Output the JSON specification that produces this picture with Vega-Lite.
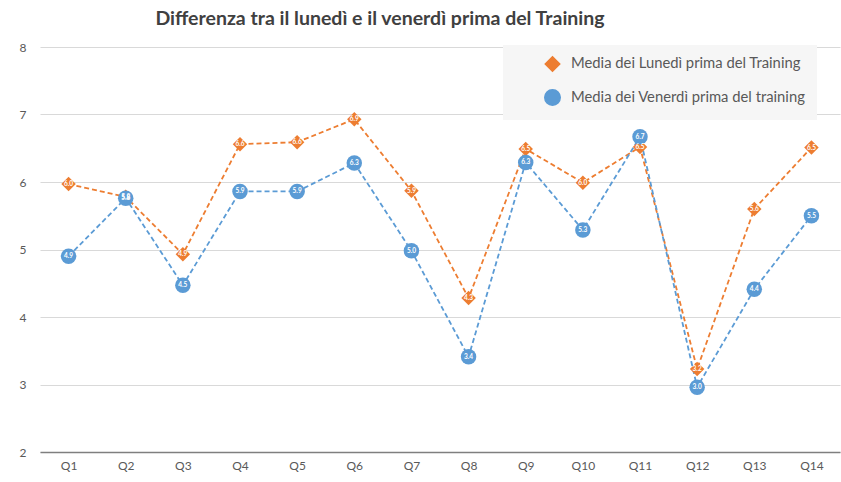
{
  "$schema": "https://vega.github.io/schema/vega-lite/v6.json",
  "width": 800,
  "height": 405,
  "autosize": "none",
  "padding": {"left": 40, "top": 47, "right": 1, "bottom": 30},
  "background": "white",
  "config": {
    "font": "Lato",
    "view": {"stroke": null},
    "axis": {"labelFont": "Lato", "labelColor": "#595959", "labelFontSize": 12}
  },
  "title": {
    "text": "Differenza tra il lunedì e il venerdì prima del Training",
    "font": "Lato",
    "fontSize": 19.5,
    "fontWeight": "bold",
    "color": "#404040",
    "anchor": "middle",
    "dx": -60,
    "offset": 12
  },
  "data": {
    "values": [
      {"q": "Q1", "serie": "Media dei Lunedì prima del Training", "v": 5.97},
      {"q": "Q2", "serie": "Media dei Lunedì prima del Training", "v": 5.78},
      {"q": "Q3", "serie": "Media dei Lunedì prima del Training", "v": 4.93},
      {"q": "Q4", "serie": "Media dei Lunedì prima del Training", "v": 6.56},
      {"q": "Q5", "serie": "Media dei Lunedì prima del Training", "v": 6.59},
      {"q": "Q6", "serie": "Media dei Lunedì prima del Training", "v": 6.93},
      {"q": "Q7", "serie": "Media dei Lunedì prima del Training", "v": 5.87},
      {"q": "Q8", "serie": "Media dei Lunedì prima del Training", "v": 4.28},
      {"q": "Q9", "serie": "Media dei Lunedì prima del Training", "v": 6.49},
      {"q": "Q10", "serie": "Media dei Lunedì prima del Training", "v": 5.99},
      {"q": "Q11", "serie": "Media dei Lunedì prima del Training", "v": 6.52},
      {"q": "Q12", "serie": "Media dei Lunedì prima del Training", "v": 3.23},
      {"q": "Q13", "serie": "Media dei Lunedì prima del Training", "v": 5.6},
      {"q": "Q14", "serie": "Media dei Lunedì prima del Training", "v": 6.51},
      {"q": "Q1", "serie": "Media dei Venerdì prima del training", "v": 4.9},
      {"q": "Q2", "serie": "Media dei Venerdì prima del training", "v": 5.76},
      {"q": "Q3", "serie": "Media dei Venerdì prima del training", "v": 4.47},
      {"q": "Q4", "serie": "Media dei Venerdì prima del training", "v": 5.86},
      {"q": "Q5", "serie": "Media dei Venerdì prima del training", "v": 5.86},
      {"q": "Q6", "serie": "Media dei Venerdì prima del training", "v": 6.28},
      {"q": "Q7", "serie": "Media dei Venerdì prima del training", "v": 4.98},
      {"q": "Q8", "serie": "Media dei Venerdì prima del training", "v": 3.41},
      {"q": "Q9", "serie": "Media dei Venerdì prima del training", "v": 6.29},
      {"q": "Q10", "serie": "Media dei Venerdì prima del training", "v": 5.29},
      {"q": "Q11", "serie": "Media dei Venerdì prima del training", "v": 6.67},
      {"q": "Q12", "serie": "Media dei Venerdì prima del training", "v": 2.96},
      {"q": "Q13", "serie": "Media dei Venerdì prima del training", "v": 4.41},
      {"q": "Q14", "serie": "Media dei Venerdì prima del training", "v": 5.5}
    ]
  },
  "encoding": {
    "x": {
      "field": "q", "type": "ordinal", "sort": null,
      "scale": {"type": "point", "padding": 0.5},
      "axis": {"title": null, "labelAngle": 0, "ticks": false, "domainColor": "#7f7f7f", "domainWidth": 1.5, "labelPadding": 8, "grid": false}
    },
    "y": {
      "field": "v", "type": "quantitative",
      "scale": {"domain": [2, 8], "nice": false, "zero": false},
      "axis": {"title": null, "values": [2, 3, 4, 5, 6, 7, 8], "ticks": false, "domain": false, "gridColor": "#d9d9d9", "gridWidth": 1, "labelPadding": 14}
    },
    "color": {
      "field": "serie", "type": "nominal",
      "scale": {"domain": ["Media dei Lunedì prima del Training", "Media dei Venerdì prima del training"], "range": ["#ed7d31", "#5b9bd5"]},
      "legend": {
        "title": null, "orient": "none", "legendX": 463, "legendY": -2,
        "fillColor": "#f6f6f6", "padding": 11, "symbolOffset": 30,
        "rowPadding": 11, "labelFontSize": 14.8, "labelColor": "#595959",
        "labelFont": "Lato", "symbolSize": 55, "labelLimit": 400, "labelOffset": 10
      }
    }
  },
  "layer": [
    {
      "mark": {"type": "line", "strokeDash": [5, 3], "strokeWidth": 1.8},
      "encoding": {"detail": {"field": "serie"}}
    },
    {
      "mark": {"type": "point", "filled": true, "opacity": 1},
      "encoding": {
        "shape": {
          "field": "serie", "type": "nominal",
          "scale": {"domain": ["Media dei Lunedì prima del Training", "Media dei Venerdì prima del training"], "range": ["diamond", "circle"]},
          "legend": null
        },
        "size": {
          "field": "serie", "type": "nominal",
          "scale": {"domain": ["Media dei Lunedì prima del Training", "Media dei Venerdì prima del training"], "range": [210, 240]},
          "legend": null
        }
      }
    },
    {
      "mark": {"type": "text", "color": "white", "fontSize": 6.5, "fontWeight": "bold", "font": "Lato"},
      "encoding": {
        "text": {"field": "v", "type": "quantitative", "format": ".1f"},
        "color": {"value": "white"}
      }
    }
  ]
}
